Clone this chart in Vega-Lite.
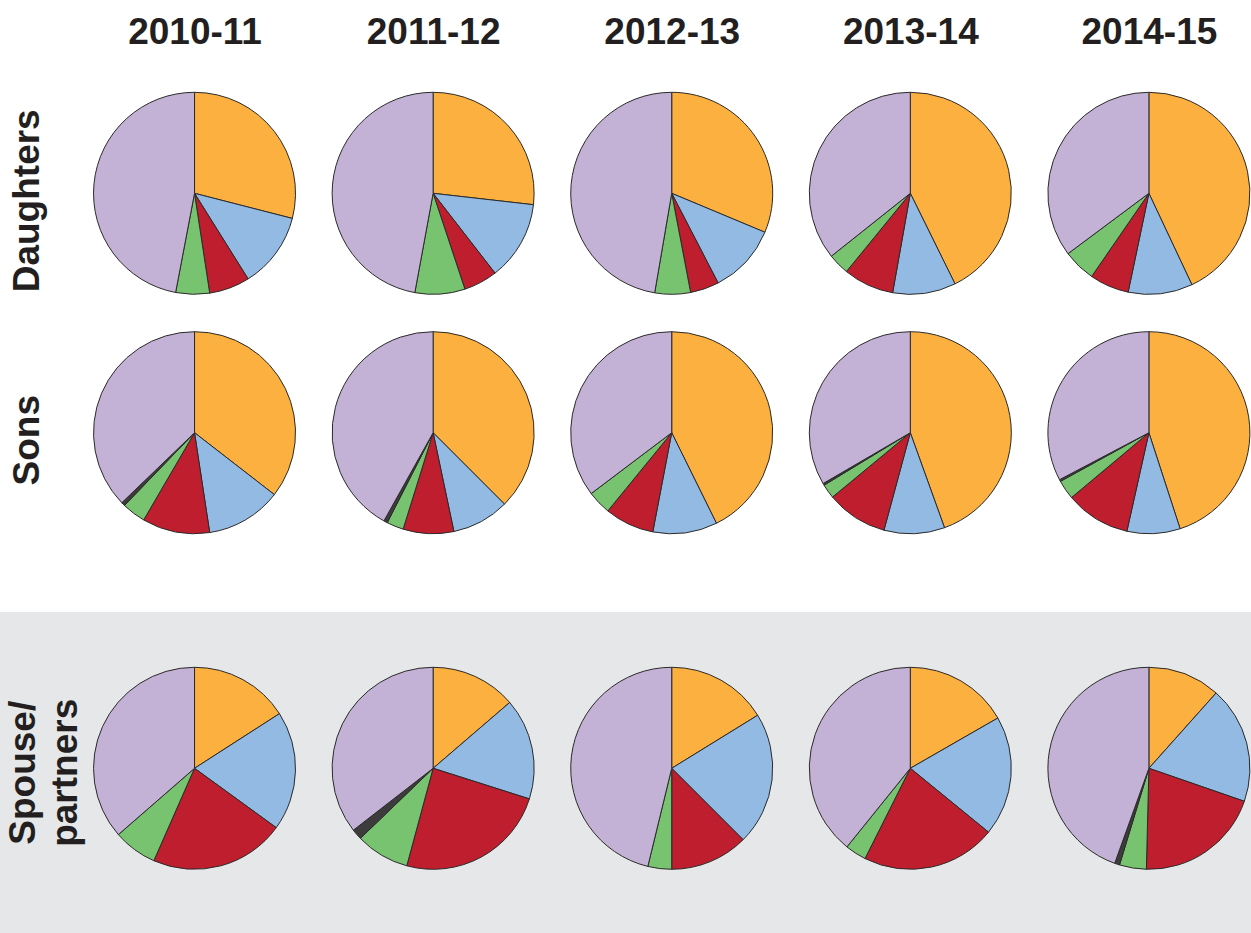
{
  "$schema": "https://vega.github.io/schema/vega-lite/v6.json",
  "padding": 0,
  "spacing": 0,
  "background": "white",
  "config": {"view": {"stroke": null}, "font": "Liberation Sans"},
  "data": {"values": [
    {"group": "Daughters", "year": "2010-11", "category": "A", "value": 29.0},
    {"group": "Daughters", "year": "2010-11", "category": "B", "value": 12.1},
    {"group": "Daughters", "year": "2010-11", "category": "C", "value": 6.5},
    {"group": "Daughters", "year": "2010-11", "category": "D", "value": 5.4},
    {"group": "Daughters", "year": "2010-11", "category": "F", "value": 47.0},
    {"group": "Daughters", "year": "2011-12", "category": "A", "value": 26.8},
    {"group": "Daughters", "year": "2011-12", "category": "B", "value": 12.7},
    {"group": "Daughters", "year": "2011-12", "category": "C", "value": 5.4},
    {"group": "Daughters", "year": "2011-12", "category": "D", "value": 8.0},
    {"group": "Daughters", "year": "2011-12", "category": "F", "value": 47.1},
    {"group": "Daughters", "year": "2012-13", "category": "A", "value": 31.3},
    {"group": "Daughters", "year": "2012-13", "category": "B", "value": 11.1},
    {"group": "Daughters", "year": "2012-13", "category": "C", "value": 4.6},
    {"group": "Daughters", "year": "2012-13", "category": "D", "value": 5.7},
    {"group": "Daughters", "year": "2012-13", "category": "F", "value": 47.3},
    {"group": "Daughters", "year": "2013-14", "category": "A", "value": 42.7},
    {"group": "Daughters", "year": "2013-14", "category": "B", "value": 10.1},
    {"group": "Daughters", "year": "2013-14", "category": "C", "value": 8.1},
    {"group": "Daughters", "year": "2013-14", "category": "D", "value": 3.4},
    {"group": "Daughters", "year": "2013-14", "category": "F", "value": 35.7},
    {"group": "Daughters", "year": "2014-15", "category": "A", "value": 43.0},
    {"group": "Daughters", "year": "2014-15", "category": "B", "value": 10.3},
    {"group": "Daughters", "year": "2014-15", "category": "C", "value": 6.3},
    {"group": "Daughters", "year": "2014-15", "category": "D", "value": 5.2},
    {"group": "Daughters", "year": "2014-15", "category": "F", "value": 35.2},
    {"group": "Sons", "year": "2010-11", "category": "A", "value": 35.5},
    {"group": "Sons", "year": "2010-11", "category": "B", "value": 12.1},
    {"group": "Sons", "year": "2010-11", "category": "C", "value": 10.8},
    {"group": "Sons", "year": "2010-11", "category": "D", "value": 3.8},
    {"group": "Sons", "year": "2010-11", "category": "E", "value": 0.6},
    {"group": "Sons", "year": "2010-11", "category": "F", "value": 37.2},
    {"group": "Sons", "year": "2011-12", "category": "A", "value": 37.5},
    {"group": "Sons", "year": "2011-12", "category": "B", "value": 9.2},
    {"group": "Sons", "year": "2011-12", "category": "C", "value": 8.1},
    {"group": "Sons", "year": "2011-12", "category": "D", "value": 2.7},
    {"group": "Sons", "year": "2011-12", "category": "E", "value": 0.6},
    {"group": "Sons", "year": "2011-12", "category": "F", "value": 41.9},
    {"group": "Sons", "year": "2012-13", "category": "A", "value": 42.7},
    {"group": "Sons", "year": "2012-13", "category": "B", "value": 10.3},
    {"group": "Sons", "year": "2012-13", "category": "C", "value": 7.9},
    {"group": "Sons", "year": "2012-13", "category": "D", "value": 3.8},
    {"group": "Sons", "year": "2012-13", "category": "F", "value": 35.3},
    {"group": "Sons", "year": "2013-14", "category": "A", "value": 44.5},
    {"group": "Sons", "year": "2013-14", "category": "B", "value": 9.7},
    {"group": "Sons", "year": "2013-14", "category": "C", "value": 9.8},
    {"group": "Sons", "year": "2013-14", "category": "D", "value": 2.3},
    {"group": "Sons", "year": "2013-14", "category": "E", "value": 0.3},
    {"group": "Sons", "year": "2013-14", "category": "F", "value": 33.4},
    {"group": "Sons", "year": "2014-15", "category": "A", "value": 45.0},
    {"group": "Sons", "year": "2014-15", "category": "B", "value": 8.5},
    {"group": "Sons", "year": "2014-15", "category": "C", "value": 10.4},
    {"group": "Sons", "year": "2014-15", "category": "D", "value": 3.1},
    {"group": "Sons", "year": "2014-15", "category": "E", "value": 0.3},
    {"group": "Sons", "year": "2014-15", "category": "F", "value": 32.7},
    {"group": "Spouse/partners", "year": "2010-11", "category": "A", "value": 15.9},
    {"group": "Spouse/partners", "year": "2010-11", "category": "B", "value": 19.1},
    {"group": "Spouse/partners", "year": "2010-11", "category": "C", "value": 21.6},
    {"group": "Spouse/partners", "year": "2010-11", "category": "D", "value": 7.0},
    {"group": "Spouse/partners", "year": "2010-11", "category": "F", "value": 36.4},
    {"group": "Spouse/partners", "year": "2011-12", "category": "A", "value": 13.7},
    {"group": "Spouse/partners", "year": "2011-12", "category": "B", "value": 16.2},
    {"group": "Spouse/partners", "year": "2011-12", "category": "C", "value": 24.3},
    {"group": "Spouse/partners", "year": "2011-12", "category": "D", "value": 8.6},
    {"group": "Spouse/partners", "year": "2011-12", "category": "E", "value": 1.7},
    {"group": "Spouse/partners", "year": "2011-12", "category": "F", "value": 35.5},
    {"group": "Spouse/partners", "year": "2012-13", "category": "A", "value": 16.2},
    {"group": "Spouse/partners", "year": "2012-13", "category": "B", "value": 21.3},
    {"group": "Spouse/partners", "year": "2012-13", "category": "C", "value": 12.5},
    {"group": "Spouse/partners", "year": "2012-13", "category": "D", "value": 3.8},
    {"group": "Spouse/partners", "year": "2012-13", "category": "F", "value": 46.2},
    {"group": "Spouse/partners", "year": "2013-14", "category": "A", "value": 16.7},
    {"group": "Spouse/partners", "year": "2013-14", "category": "B", "value": 19.2},
    {"group": "Spouse/partners", "year": "2013-14", "category": "C", "value": 21.5},
    {"group": "Spouse/partners", "year": "2013-14", "category": "D", "value": 3.4},
    {"group": "Spouse/partners", "year": "2013-14", "category": "F", "value": 39.2},
    {"group": "Spouse/partners", "year": "2014-15", "category": "A", "value": 11.6},
    {"group": "Spouse/partners", "year": "2014-15", "category": "B", "value": 18.7},
    {"group": "Spouse/partners", "year": "2014-15", "category": "C", "value": 20.1},
    {"group": "Spouse/partners", "year": "2014-15", "category": "D", "value": 4.3},
    {"group": "Spouse/partners", "year": "2014-15", "category": "E", "value": 0.8},
    {"group": "Spouse/partners", "year": "2014-15", "category": "F", "value": 44.5}
  ]},
  "vconcat": [
    {
      "width": 1251,
      "height": 612,
      "view": {"stroke": null},
      "transform": [
        {"filter": "datum.group != 'Spouse/partners'"},
        {"stack": "value", "groupby": ["group", "year"], "sort": [{"field": "category", "order": "ascending"}], "offset": "normalize", "as": ["v0", "v1"]}
      ],
      "mark": {"type": "arc", "radius": 101, "stroke": "#2b2a2a", "strokeWidth": 1, "strokeJoin": "round"},
      "encoding": {
        "x": {
          "field": "year", "type": "ordinal",
          "sort": ["2010-11", "2011-12", "2012-13", "2013-14", "2014-15"],
          "scale": {"type": "point", "padding": 0.6216, "align": 0.6558},
          "axis": {"orient": "top", "title": null, "domain": false, "ticks": false, "tickSize": 0, "labelPadding": 0, "offset": -43, "labelAngle": 0, "labelBaseline": "alphabetic", "labelAlign": "center", "labelFont": "Liberation Sans", "labelFontSize": 37, "labelFontWeight": "bold", "labelColor": "#231f20", "labelLimit": 0, "labelOverlap": false}
        },
        "y": {
          "field": "group", "type": "nominal",
          "scale": {"type": "point", "domain": ["Daughters", "Sons"], "padding": 0.7782, "align": 0.5188},
          "axis": {"orient": "left", "title": null, "domain": false, "ticks": false, "tickSize": 0, "labelPadding": 0, "offset": -38, "labelAngle": -90, "labelAlign": "center", "labelBaseline": "alphabetic", "labelOffset": 7, "labelFont": "Liberation Sans", "labelFontSize": 37, "labelFontWeight": "bold", "labelColor": "#231f20", "labelLimit": 0, "labelOverlap": false}
        },
        "theta": {"field": "v0", "type": "quantitative", "scale": {"domain": [0, 1]}, "stack": null},
        "theta2": {"field": "v1"},
        "color": {
          "field": "category", "type": "nominal",
          "scale": {"domain": ["A", "B", "C", "D", "E", "F"], "range": ["#fbb040", "#93bae3", "#be1e2d", "#78c36f", "#3d3b3c", "#c3b2d6"]},
          "legend": null
        }
      }
    },
    {
      "width": 1251,
      "height": 321,
      "view": {"fill": "#e6e7e8", "stroke": null},
      "transform": [
        {"filter": "datum.group == 'Spouse/partners'"},
        {"stack": "value", "groupby": ["group", "year"], "sort": [{"field": "category", "order": "ascending"}], "offset": "normalize", "as": ["v0", "v1"]}
      ],
      "mark": {"type": "arc", "radius": 101, "stroke": "#2b2a2a", "strokeWidth": 1, "strokeJoin": "round"},
      "encoding": {
        "x": {
          "field": "year", "type": "ordinal",
          "sort": ["2010-11", "2011-12", "2012-13", "2013-14", "2014-15"],
          "scale": {"type": "point", "padding": 0.6216, "align": 0.6558},
          "axis": null
        },
        "y": {
          "field": "group", "type": "nominal",
          "scale": {"type": "point", "domain": ["Spouse/partners"], "padding": 0.5, "align": 0.4869},
          "axis": {"orient": "left", "title": null, "domain": false, "ticks": false, "tickSize": 0, "labelPadding": 0, "offset": -34, "labelAngle": -90, "labelAlign": "center", "labelBaseline": "alphabetic", "labelOffset": 4, "labelLineHeight": 42, "labelExpr": "datum.value == 'Spouse/partners' ? ['Spouse/', 'partners'] : datum.label", "labelFont": "Liberation Sans", "labelFontSize": 37, "labelFontWeight": "bold", "labelColor": "#231f20", "labelLimit": 0, "labelOverlap": false}
        },
        "theta": {"field": "v0", "type": "quantitative", "scale": {"domain": [0, 1]}, "stack": null},
        "theta2": {"field": "v1"},
        "color": {
          "field": "category", "type": "nominal",
          "scale": {"domain": ["A", "B", "C", "D", "E", "F"], "range": ["#fbb040", "#93bae3", "#be1e2d", "#78c36f", "#3d3b3c", "#c3b2d6"]},
          "legend": null
        }
      }
    }
  ]
}
